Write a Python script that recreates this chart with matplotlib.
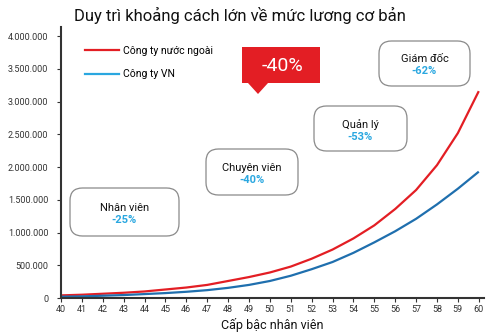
import matplotlib.pyplot as plt
from matplotlib.patches import FancyBboxPatch, Polygon
from matplotlib.lines import Line2D
from matplotlib.ticker import FuncFormatter

plt.rcParams['font.family'] = ['Roboto', 'DejaVu Sans']

# Employee level (cap bac) and base salary of each company type
levels = list(range(40, 61))
foreign_salary = [40000, 50000, 65000, 80000, 100000, 130000, 160000, 200000, 260000, 320000,
                  390000, 480000, 600000, 740000, 910000, 1110000, 1360000, 1650000, 2030000,
                  2520000, 3160000]
vn_salary = [20000, 25000, 35000, 45000, 60000, 75000, 95000, 120000, 155000, 200000,
             260000, 340000, 440000, 550000, 690000, 850000, 1020000, 1210000, 1430000,
             1670000, 1930000]

# Position labels and the VN-vs-foreign gap
positions = ['Nhân viên', 'Chuyên viên', 'Quản lý', 'Giám đốc']
gaps = ['-25%', '-40%', '-53%', '-62%']
headline_gap = '-40%'

RED = '#e31e24'
BLUE = '#1f6fae'
LIGHT_BLUE = '#2aa7e0'

W, H = 500, 335
fig = plt.figure(figsize=(W / 100, H / 100), dpi=100)
ax = fig.add_axes([61 / W, (H - 298) / H, (484 - 61) / W, (298 - 27) / H])

ax.plot(levels, foreign_salary, color=RED, lw=1.6, solid_capstyle='butt')
ax.plot(levels, vn_salary, color=BLUE, lw=1.6, solid_capstyle='butt')

ax.set_xlim(40, 60.25)
ax.set_ylim(0, 4140000)
ax.set_xticks(levels)
ax.set_yticks(range(0, 4000001, 500000))
ax.yaxis.set_major_formatter(FuncFormatter(lambda v, p: f'{int(v):,}'.replace(',', '.')))
ax.tick_params(labelsize=6.5, colors='#333333', length=3, width=0.8, pad=2)
ax.tick_params(axis='y', pad=6)
for side in ('top', 'right'):
    ax.spines[side].set_visible(False)
for side in ('left', 'bottom'):
    ax.spines[side].set_color('#333333')
    ax.spines[side].set_linewidth(1.5)

ax.set_xlabel('Cấp bậc nhân viên', fontsize=9, color='#111111', labelpad=3)

fig.text(240 / W, 1 - 15 / H, 'Duy trì khoảng cách lớn về mức lương cơ bản',
         ha='center', va='center', fontsize=12, color='#111111')

# legend
handles = [Line2D([], [], color=RED, lw=1.6), Line2D([], [], color=LIGHT_BLUE, lw=1.6)]
ax.legend(handles, ['Công ty nước ngoài', 'Công ty VN'], loc='upper left',
          bbox_to_anchor=(0.035, 0.965), frameon=False, fontsize=7.5,
          handlelength=3.2, labelspacing=1.3, handletextpad=0.4)


def fx(px):
    return px / W


def fy(py):
    return 1 - py / H


# rounded label boxes: (x0, y0, x1, y1) in pixels from top-left
boxes = [(70, 188, 179, 236), (206, 149, 298, 195), (314, 106, 407, 151), (379, 41, 470, 86)]
for (x0, y0, x1, y1), name, gap in zip(boxes, positions, gaps):
    fig.patches.append(FancyBboxPatch((fx(x0), fy(y1)), fx(x1 - x0), (y1 - y0) / H,
                                      boxstyle='round,pad=0,rounding_size=0.025',
                                      transform=fig.transFigure, facecolor='white',
                                      edgecolor='#8a8a8a', lw=0.9, mutation_aspect=W / H))
    cx = (x0 + x1) / 2
    cy = (y0 + y1) / 2
    fig.text(fx(cx), fy(cy - 4), name, ha='center', va='center', fontsize=8, color='#111111')
    fig.text(fx(cx), fy(cy + 8), gap, ha='center', va='center', fontsize=8,
             color=LIGHT_BLUE, fontweight='bold')

# red callout
fig.patches.append(Polygon([(fx(242), fy(47)), (fx(320), fy(47)), (fx(320), fy(83)),
                            (fx(268), fy(83)), (fx(258), fy(94)), (fx(248), fy(83)),
                            (fx(242), fy(83))], closed=True, transform=fig.transFigure,
                           facecolor=RED, edgecolor='none'))
fig.text(fx(282), fy(66), headline_gap, ha='center', va='center', fontsize=14, color='white')

fig.savefig('out.png', dpi=100)
